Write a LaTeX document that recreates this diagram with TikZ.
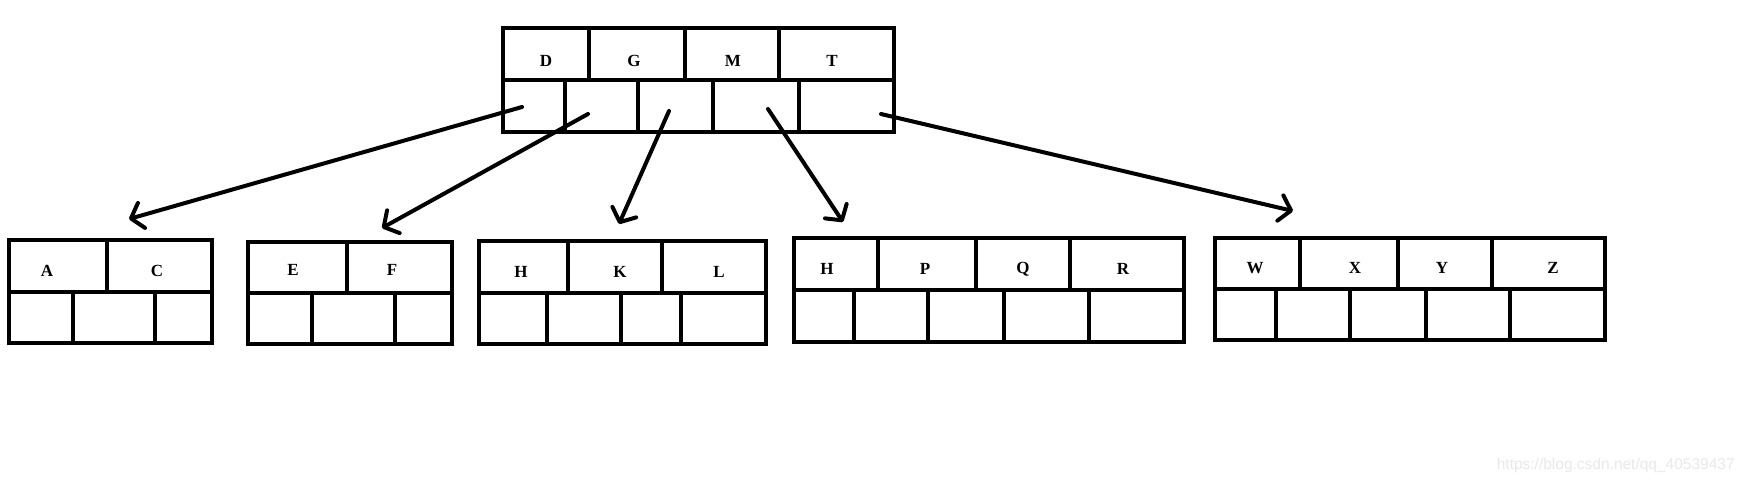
\documentclass[tikz,border=0pt]{standalone}
\usepackage{fontspec}
\setmainfont{Liberation Serif}
\newfontfamily\wmfont{Liberation Sans}
\usetikzlibrary{arrows.meta}

\tikzset{
  bnode/.style={draw,line width=4pt,inner sep=0pt},
  key/.style={font=\bfseries\fontsize{17}{20}\selectfont},
  ptr/.style={line width=4pt,line cap=round,-{Straight Barb[round,length=11pt,width=26pt]}}
}

\begin{document}
\begin{tikzpicture}[x=1pt,y=-1pt,line width=4pt]
\useasboundingbox (0,0) rectangle (1748,484);

% root
\node[bnode,minimum width=391pt,minimum height=104pt] (root) at (698.5,80) {};
\draw (root.west) -- (root.east);
\foreach \x in {589,685,779} \draw (\x,28) -- (\x,79);
\foreach \x in {565,638,713,799} \draw (\x,79) -- (\x,132);
\node[key] (kD) at (546,61) {D};
\node[key] (kG) at (634,61) {G};
\node[key] (kM) at (733,61) {M};
\node[key] (kT) at (832,61) {T};

% children
\node[bnode,minimum width=203pt,minimum height=103pt] (c1) at (110.5,291.5) {};
\draw (c1.west) -- (c1.east);
\draw (107,240) -- (107,291);
\foreach \x in {73,155} \draw (\x,291) -- (\x,343);
\node[key] (kA) at (47,271) {A};
\node[key] (kC) at (157,271) {C};

\node[bnode,minimum width=204pt,minimum height=102pt] (c2) at (350,293) {};
\draw (c2.west) -- (c2.east);
\draw (347,242) -- (347,292);
\foreach \x in {312,395} \draw (\x,292) -- (\x,344);
\node[key] (kE) at (293,270) {E};
\node[key] (kF) at (392,270) {F};

\node[bnode,minimum width=287pt,minimum height=103pt] (c3) at (622.5,292.5) {};
\draw (c3.west) -- (c3.east);
\foreach \x in {568,662} \draw (\x,241) -- (\x,292);
\foreach \x in {547,621,681} \draw (\x,292) -- (\x,344);
\node[key] (kH) at (521,272) {H};
\node[key] (kK) at (620,272) {K};
\node[key] (kL) at (719,272) {L};

\node[bnode,minimum width=390pt,minimum height=104pt] (c4) at (989,290) {};
\draw (c4.west) -- (c4.east);
\foreach \x in {878,976,1070} \draw (\x,238) -- (\x,289);
\foreach \x in {854,928,1004,1089} \draw (\x,289) -- (\x,342);
\node[key] (kH2) at (827,269) {H};
\node[key] (kP) at (925,269) {P};
\node[key] (kQ) at (1023,269) {Q};
\node[key] (kR) at (1123,269) {R};

\node[bnode,minimum width=390pt,minimum height=102pt] (c5) at (1410,289) {};
\draw (c5.west) -- (c5.east);
\foreach \x in {1300,1398,1492} \draw (\x,238) -- (\x,288);
\foreach \x in {1276,1350,1426,1510} \draw (\x,288) -- (\x,340);
\node[key] (kW) at (1255,268) {W};
\node[key] (kX) at (1355,268) {X};
\node[key] (kY) at (1442,268) {Y};
\node[key] (kZ) at (1553,268) {Z};

% pointers
\coordinate (p0) at (522,107);
\coordinate (p1) at (588,114);
\coordinate (p2) at (669,111);
\coordinate (p3) at (768,109);
\coordinate (p4) at (881,114);
\coordinate (t1) at (129,219);
\coordinate (t2) at (382,228);
\coordinate (t3) at (619,224);
\coordinate (t4) at (843,222);
\coordinate (t5) at (1293,211);

\path[ptr] (p0) edge (t1)
           (p1) edge (t2)
           (p2) edge (t3)
           (p3) edge (t4)
           (p4) edge (t5);

\node[text=black!9,font=\wmfont\fontsize{15.5}{18}\selectfont,anchor=east] (wm) at (1740,465) {https://blog.csdn.net/qq\_40539437};
\end{tikzpicture}
\end{document}
